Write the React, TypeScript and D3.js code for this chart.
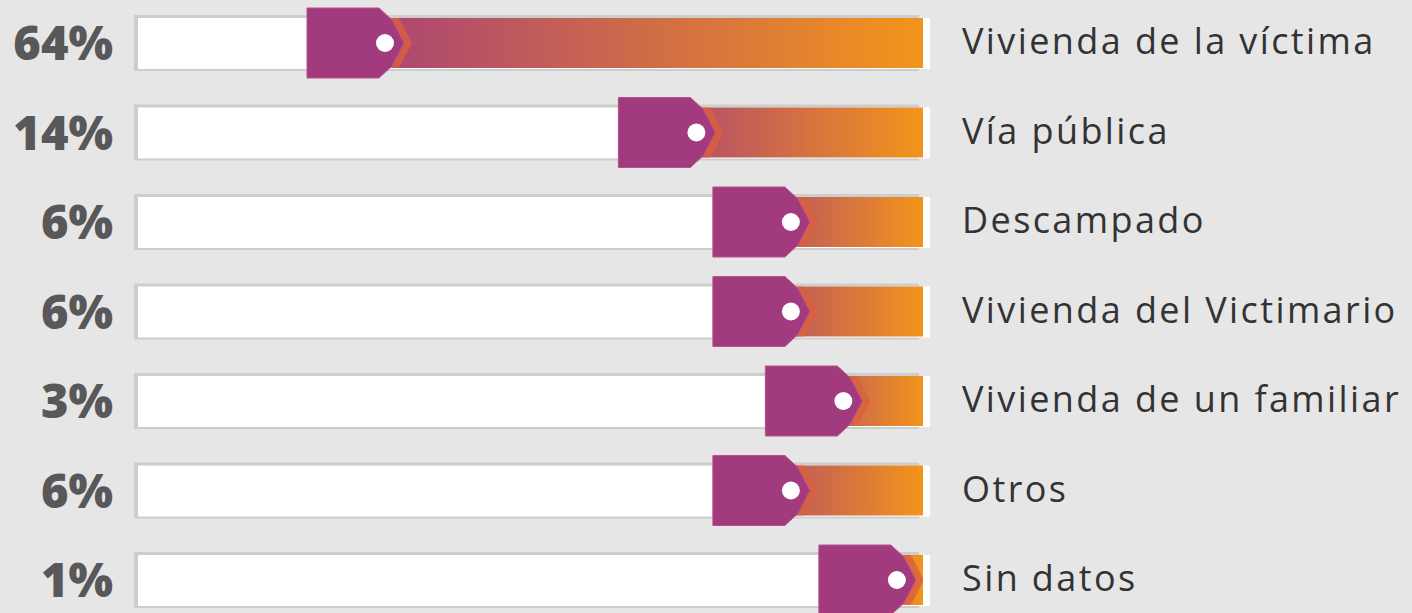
import React, { useEffect, useRef } from "react";
import * as d3 from "d3";

const categories = [
  "Vivienda de la víctima",
  "Vía pública",
  "Descampado",
  "Vivienda del Victimario",
  "Vivienda de un familiar",
  "Otros",
  "Sin datos",
];
const values = [64, 14, 6, 6, 3, 6, 1];
const percentLabels = ["64%", "14%", "6%", "6%", "3%", "6%", "1%"];

const W = 1412, H = 613;

function App() {
  const svgRef = useRef<SVGSVGElement | null>(null);

  useEffect(() => {
    const svg = d3.select(svgRef.current);
    svg.selectAll("*").remove();

    const trackLeft = 138, trackRight = 923;

    // row centers
    const yScale = d3.scalePoint<number>()
      .domain(d3.range(categories.length))
      .range([43, 580]);

    // left edge of the tag: bigger share -> further left
    const xScale = d3.scaleSqrt()
      .domain([0, 64])
      .range([trackRight - 31, 307]);

    svg.append("rect")
      .attr("width", W).attr("height", H)
      .attr("fill", "#e6e6e6");

    const defs = svg.append("defs");
    const grad = defs.append("linearGradient")
      .attr("id", "barGrad")
      .attr("x1", "0%").attr("x2", "100%")
      .attr("y1", "0%").attr("y2", "0%");
    grad.append("stop").attr("offset", "0%").attr("stop-color", "#a23b7f");
    grad.append("stop").attr("offset", "100%").attr("stop-color", "#f3941b");

    const tagPath = (x0: number, cy: number) => {
      const pts: [number, number][] = [
        [x0, cy - 35], [x0 + 72, cy - 35], [x0 + 85, cy - 23], [x0 + 97, cy],
        [x0 + 85, cy + 23], [x0 + 72, cy + 35], [x0, cy + 35],
      ];
      return d3.line().curve(d3.curveLinearClosed)(pts);
    };

    const rows = svg.selectAll("g.row")
      .data(values)
      .enter()
      .append("g")
      .attr("class", "row");

    rows.each(function (v, i) {
      const g = d3.select(this);
      const cy = yScale(i)!;
      const x0 = xScale(v);

      // track with inset border
      g.append("rect")
        .attr("x", trackLeft - 4).attr("y", cy - 28)
        .attr("width", trackRight - trackLeft).attr("height", 56)
        .attr("fill", "#cdcdcd");
      g.append("rect")
        .attr("x", trackLeft).attr("y", cy - 25)
        .attr("width", trackRight - trackLeft + 7).attr("height", 51)
        .attr("fill", "#ffffff");

      // gradient segment
      g.append("rect")
        .attr("x", x0).attr("y", cy - 25)
        .attr("width", trackRight - x0).attr("height", 50)
        .attr("fill", "url(#barGrad)");

      // coral chevron around the tag tip, only inside the bar
      const clipId = `clip-${i}`;
      defs.append("clipPath").attr("id", clipId)
        .append("rect")
        .attr("x", x0).attr("y", cy - 25)
        .attr("width", trackRight - x0).attr("height", 50);
      g.append("path")
        .attr("d", tagPath(x0 + 8, cy))
        .attr("fill", "#d9603f")
        .attr("opacity", 0.8)
        .attr("clip-path", `url(#${clipId})`);

      // tag
      g.append("path")
        .attr("d", tagPath(x0, cy))
        .attr("fill", "#a23a7e")
        .attr("stroke", "#b8518f")
        .attr("stroke-width", 1);
      g.append("circle")
        .attr("cx", x0 + 78).attr("cy", cy)
        .attr("r", 9)
        .attr("fill", "#ffffff");

      g.append("text")
        .attr("x", 113).attr("y", cy + 17)
        .attr("text-anchor", "end")
        .attr("font-family", "'Open Sans', Lato, sans-serif")
        .attr("font-weight", 800)
        .attr("font-size", 47)
        .attr("fill", "#58585a")
        .text(percentLabels[i]);

      g.append("text")
        .attr("x", 962).attr("y", cy + 11)
        .attr("font-family", "'Open Sans', Lato, sans-serif")
        .attr("font-size", 36)
        .attr("letter-spacing", 2.4)
        .attr("fill", "#333333")
        .text(categories[i]);
    });
  }, []);

  return (
    <svg ref={svgRef} width={W} height={H}
      style={{ position: "absolute", left: 0, top: 0, display: "block" }} />
  );
}

export default App;
